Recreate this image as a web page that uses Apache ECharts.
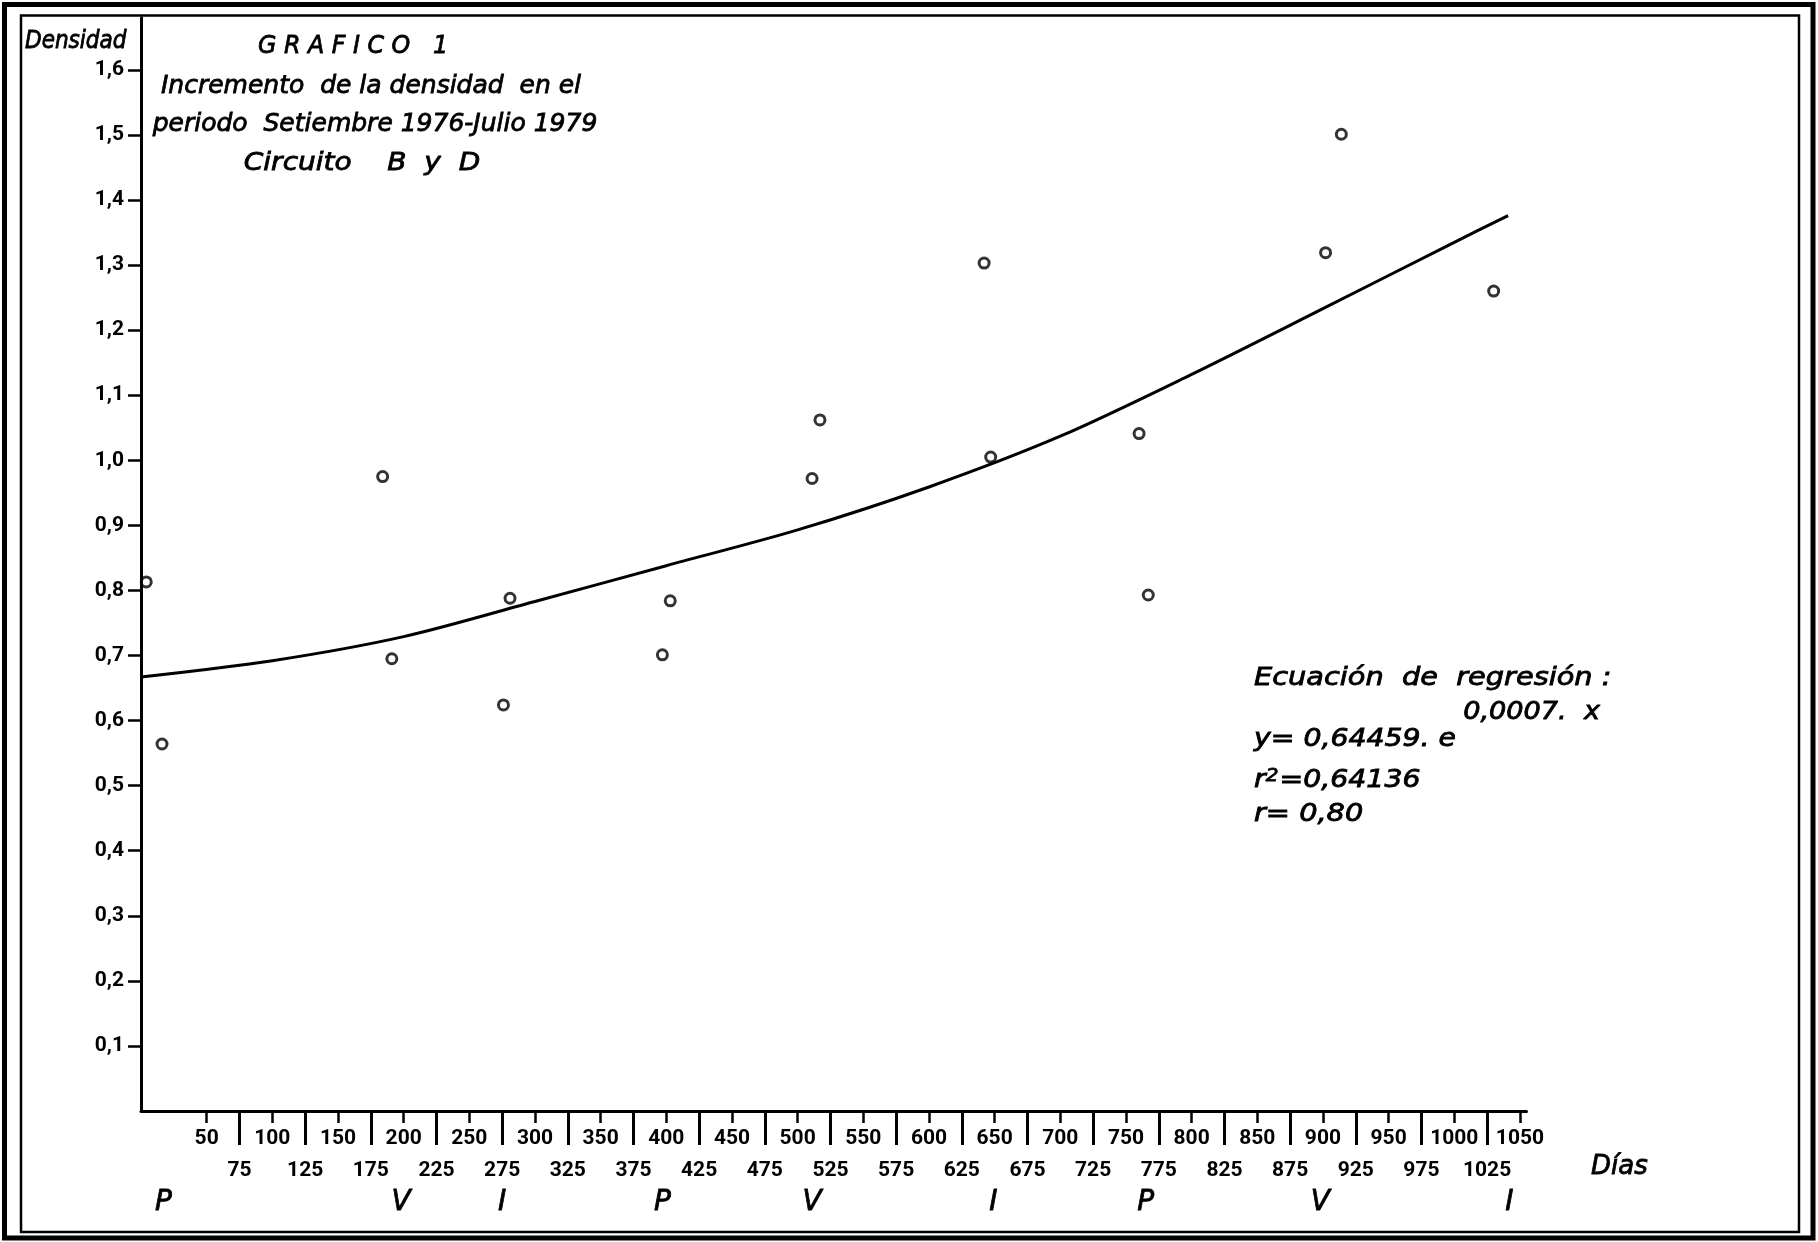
<!DOCTYPE html>
<html>
<head>
<meta charset="utf-8">
<title>Grafico 1 - Densidad</title>
<script src="https://cdn.jsdelivr.net/npm/echarts@6/dist/echarts.min.js"></script>
<style>
  html, body { margin: 0; padding: 0; background: #ffffff; }
  #chart { width: 1818px; height: 1242px; }
</style>
</head>
<body>
<div id="chart"></div>
<script>
// Sampling dates (days since September 1976) and measured density
const sampleDays = [4, 16, 184, 191, 276, 281, 397, 403, 511, 517, 642, 647, 760, 767, 902, 914, 1030];
const density    = [0.813, 0.564, 0.975, 0.695, 0.624, 0.788, 0.701, 0.784, 0.972, 1.062, 1.303, 1.005, 1.041, 0.793, 1.319, 1.501, 1.260];

// Regression curve as traced on the graph
const curveDays    = [0, 100, 200, 300, 400, 500, 600, 700, 800, 900, 1000, 1041];
const curveDensity = [0.667, 0.692, 0.729, 0.783, 0.838, 0.893, 0.959, 1.037, 1.132, 1.233, 1.335, 1.376];

// Axis tick values
const dayTicksUpper = [50, 100, 150, 200, 250, 300, 350, 400, 450, 500, 550, 600, 650, 700, 750, 800, 850, 900, 950, 1000, 1050];
const dayTicksLower = [75, 125, 175, 225, 275, 325, 375, 425, 475, 525, 575, 625, 675, 725, 775, 825, 875, 925, 975, 1025];
const densityTicks  = [0.1, 0.2, 0.3, 0.4, 0.5, 0.6, 0.7, 0.8, 0.9, 1.0, 1.1, 1.2, 1.3, 1.4, 1.5, 1.6];

// Season markers along the time axis
const seasonDays    = [17, 198, 275, 397, 511, 649, 765, 898, 1042];
const seasonLetters = ['P', 'V', 'I', 'P', 'V', 'I', 'P', 'V', 'I'];

const INK = '#000000';
const LABEL_FONT = "Roboto, 'Liberation Sans', sans-serif";
const HAND_FONT = "'DejaVu Sans', 'Liberation Sans', sans-serif";
const PEN = 0.8;   // extra outline that gives the lettering a medium weight

const X_MIN = 0, X_MAX = 1055;
const Y_MIN = 0, Y_MAX = 1.68;

const chart = echarts.init(document.getElementById('chart'), null, { renderer: 'canvas' });

const tickLabelStyle = { color: INK, fontFamily: LABEL_FONT, fontSize: 21, fontWeight: 'bold' };

function dayAxis(extra) {
  return Object.assign({
    type: 'value',
    min: X_MIN,
    max: X_MAX,
    position: 'bottom',
    gridIndex: 0,
    splitLine: { show: false },
    axisLine: { show: false },
    axisTick: { show: false },
    axisLabel: { show: false }
  }, extra);
}

function plainNumber(v) { return String(v); }

// lettering-style note placed on the sheet
function note(text, x, y, align, size, stretch) {
  return {
    type: 'text', x: x, y: y, scaleX: stretch || 1, silent: true,
    style: {
      text: text, font: 'italic ' + size + 'px ' + HAND_FONT,
      fill: INK, stroke: INK, lineWidth: PEN, align: align, verticalAlign: 'middle'
    }
  };
}

const option = {
  backgroundColor: '#ffffff',
  animation: false,
  grid: { left: 141, top: 17.8, width: 1385.5, height: 1093.2, containLabel: false },
  xAxis: [
    dayAxis({
      axisLine: { show: true, onZero: false, lineStyle: { color: INK, width: 3 } },
      axisTick: { show: true, customValues: dayTicksUpper, length: 12, lineStyle: { color: INK, width: 2.5 } },
      axisLabel: Object.assign({ show: true, customValues: dayTicksUpper, margin: 17, formatter: plainNumber }, tickLabelStyle)
    }),
    dayAxis({
      axisTick: { show: true, customValues: dayTicksLower, length: 34, lineStyle: { color: INK, width: 3 } },
      axisLabel: Object.assign({ show: true, customValues: dayTicksLower, margin: 49, formatter: plainNumber }, tickLabelStyle)
    }),
    dayAxis({
      axisLabel: {
        show: true, customValues: seasonDays, margin: 78,
        color: INK, fontFamily: HAND_FONT, fontStyle: 'italic', fontSize: 28,
        textBorderColor: INK, textBorderWidth: PEN,
        formatter: function (v) {
          const i = seasonDays.indexOf(v);
          return i >= 0 ? seasonLetters[i] : '';
        }
      }
    })
  ],
  yAxis: {
    type: 'value',
    min: Y_MIN,
    max: Y_MAX,
    splitLine: { show: false },
    axisLine: { show: true, onZero: false, lineStyle: { color: INK, width: 3 } },
    axisTick: { show: true, customValues: densityTicks, length: 13, lineStyle: { color: INK, width: 2.5 } },
    axisLabel: Object.assign({
      show: true, customValues: densityTicks, margin: 17,
      formatter: function (v) { return v.toFixed(1).replace('.', ','); }
    }, tickLabelStyle)
  },
  series: [
    {
      name: 'Regresión',
      type: 'line',
      xAxisIndex: 0,
      data: curveDays.map(function (d, i) { return [d, curveDensity[i]]; }),
      smooth: 0.3,
      showSymbol: false,
      symbol: 'none',
      lineStyle: { color: INK, width: 3 },
      z: 2
    },
    {
      name: 'Densidad',
      type: 'scatter',
      xAxisIndex: 0,
      data: sampleDays.map(function (d, i) { return [d, density[i]]; }),
      symbol: 'circle',
      symbolSize: 10,
      itemStyle: { color: 'rgba(255,255,255,0)', borderColor: INK, borderWidth: 3 },
      z: 3
    }
  ],
  graphic: [
    // double frame around the sheet
    { type: 'rect', shape: { x: 4.5, y: 4.5, width: 1808.5, height: 1233.5 },
      style: { fill: 'none', stroke: INK, lineWidth: 5 }, silent: true },
    { type: 'rect', shape: { x: 21, y: 15.5, width: 1778, height: 1216.5 },
      style: { fill: 'none', stroke: INK, lineWidth: 2.5 }, silent: true },

    // axis names
    note('Densidad', 25, 42, 'left', 24, 0.9),
    note('Días', 1591, 1167, 'left', 26, 1),

    // title block
    note('G R A F I C O   1', 353, 46, 'center', 25, 0.95),
    note('Incremento  de la densidad  en el', 371, 86, 'center', 25, 1.0),
    note('periodo  Setiembre 1976-Julio 1979', 375, 124, 'center', 25, 1.0),
    note('Circuito    B  y  D', 362, 163, 'center', 25, 1.12),

    // regression equation
    note('Ecuación  de  regresión :', 1254, 679, 'left', 24, 1.2),
    note('0,0007.  x', 1600, 713, 'right', 24, 1.13),
    note('y= 0,64459. e', 1254, 740, 'left', 24, 1.18),
    {
      type: 'text', x: 1254, y: 781, scaleX: 1.18, silent: true,
      style: {
        text: '{b|r}{s|2}{b|=0,64136}', fill: INK, align: 'left', verticalAlign: 'middle',
        rich: {
          b: { font: 'italic 24px ' + HAND_FONT, fill: INK, stroke: INK, lineWidth: PEN },
          s: { font: 'italic 17px ' + HAND_FONT, fill: INK, stroke: INK, lineWidth: PEN, verticalAlign: 'top', padding: [0, 1, 8, 0] }
        }
      }
    },
    note('r= 0,80', 1254, 815, 'left', 24, 1.2)
  ]
};

chart.setOption(option);
</script>
</body>
</html>
